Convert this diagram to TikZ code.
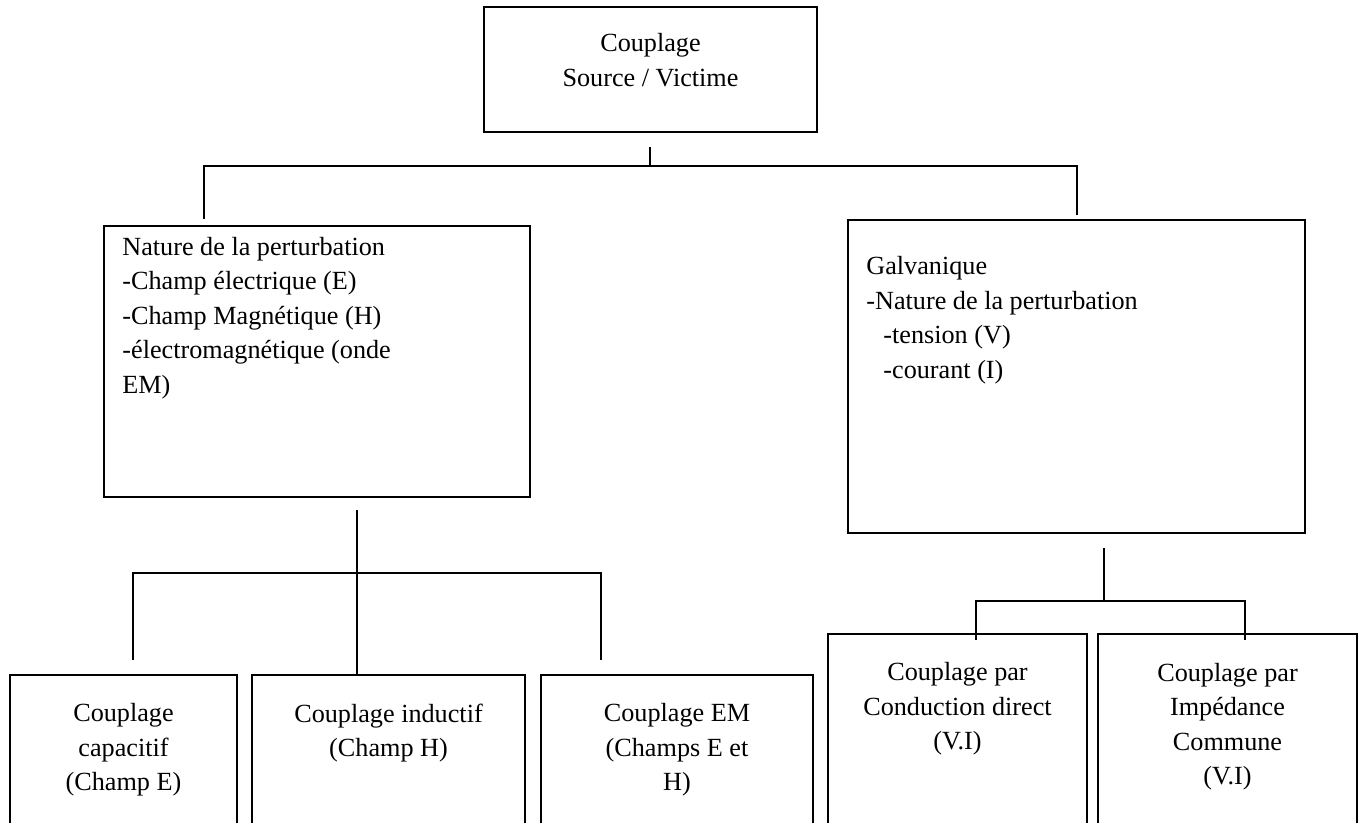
\documentclass[tikz,border=0pt]{standalone}
\usepackage{fontspec}
\setmainfont{Liberation Serif}
\usetikzlibrary{calc}
\tikzset{
  box/.style={draw, line width=1pt, inner sep=0pt},
  lbl/.style={inner sep=0pt, font=\fontsize{13.1}{17.25}\selectfont},
  conn/.style={line width=0.9pt}
}
\begin{document}
\begin{tikzpicture}[x=0.5pt,y=-0.5pt]
\clip (0,0) rectangle (1360,823);
% boxes
\node[box, minimum width=166.5pt, minimum height=62.5pt] (top) at (650.5,69.5) {};
\node[box, minimum width=213pt, minimum height=135.5pt] (nat) at (317,361.5) {};
\node[box, minimum width=228.5pt, minimum height=156.5pt] (gal) at (1076.5,376.5) {};
\node[box, minimum width=113.5pt, minimum height=112.5pt] (b1) at (123.5,787.5) {};
\node[box, minimum width=136.5pt, minimum height=112.5pt] (b2) at (388.5,787.5) {};
\node[box, minimum width=136pt, minimum height=112.5pt] (b3) at (677,787.5) {};
\node[box, minimum width=129.5pt, minimum height=133pt] (b4) at (957.5,767) {};
\node[box, minimum width=129.5pt, minimum height=133pt] (b5) at (1227.5,767) {};
% texts
\node[lbl, align=center] (ttop) at (650.5,60) {Couplage\\Source / Victime};
\node[lbl, align=left, anchor=west] (tnat) at (122,318) {Nature de la perturbation\\-Champ électrique (E)\\-Champ Magnétique (H)\\-électromagnétique (onde\\EM)};
\node[lbl, align=left, anchor=west] (tgal) at (866,320) {Galvanique\\-Nature de la perturbation\\\hspace*{8.5pt}-tension (V)\\\hspace*{8.5pt}-courant (I)};
\node[lbl, align=center] (tb1) at (123.5,750) {Couplage\\capacitif\\(Champ E)};
\node[lbl, align=center] (tb2) at (388.5,733) {Couplage inductif\\(Champ H)};
\node[lbl, align=center] (tb3) at (677,750) {Couplage EM\\(Champs E et\\H)};
\node[lbl, align=center] (tb4) at (957.5,709) {Couplage par\\Conduction direct\\(V.I)};
\node[lbl, align=center] (tb5) at (1227.5,726.5) {Couplage par\\Impédance\\Commune\\(V.I)};
% connector coordinates
\coordinate (s0) at (650,147);
\coordinate (j0) at (650,166);
\coordinate (eL) at (204,219);
\coordinate (eR) at (1077,215);
\coordinate (s1) at (357,510);
\coordinate (j1) at (357,573);
\coordinate (e1) at (133,660);
\coordinate (e2) at (357,675);
\coordinate (e3) at (601,660);
\coordinate (s2) at (1104,548);
\coordinate (j2) at (1104,601);
\coordinate (e4) at (976,640);
\coordinate (e5) at (1245,640);
% connectors
\draw[conn] (s0) -- (j0);
\draw[conn] (eL) |- (j0) -| (eR);
\draw[conn] (s1) -- (e2);
\draw[conn] (e1) |- (j1) -| (e3);
\draw[conn] (s2) -- (j2);
\draw[conn] (e4) |- (j2) -| (e5);
\end{tikzpicture}
\end{document}
